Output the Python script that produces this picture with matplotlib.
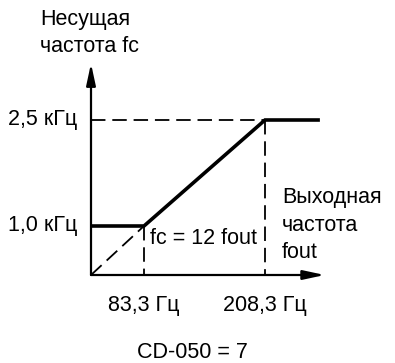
import matplotlib
matplotlib.use("Agg")
import matplotlib.pyplot as plt
import numpy as np

plt.rcParams['font.family'] = ['Liberation Sans', 'DejaVu Sans']

# data: output frequency (Hz) vs carrier frequency (kHz)
fout_hz = [0, 83.3, 208.3, 265]
fc_khz = [1.0, 1.0, 2.5, 2.5]
ref_fout = [0, 83.3]          # dashed line fc = 12 fout
ref_fc = [0, 1.0]
x_ticks = [83.3, 208.3]
x_tick_labels = ["83,3 Гц", "208,3 Гц"]
y_ticks = [1.0, 2.5]
y_tick_labels = ["1,0 кГц", "2,5 кГц"]
x_arrow_end = 270
y_arrow_end = 3.3

W, H = 395, 363


def piecewise(v, xp, fp):
    # linear interpolation with linear extrapolation at both ends
    v = np.asarray(v, dtype=float)
    out = np.interp(v, xp, fp)
    lo = v < xp[0]
    hi = v > xp[-1]
    s0 = (fp[1] - fp[0]) / (xp[1] - xp[0])
    s1 = (fp[-1] - fp[-2]) / (xp[-1] - xp[-2])
    out = np.where(lo, fp[0] + (v - xp[0]) * s0, out)
    out = np.where(hi, fp[-1] + (v - xp[-1]) * s1, out)
    return out


# schematic (not to scale) axis: value -> pixel
xv, xpx = [0, 83.3, 208.3], [91, 144, 265]
yv, ypx = [0, 1.0, 2.5], [H - 275, H - 226, H - 120]

fx = (lambda v: piecewise(v, xv, xpx), lambda p: piecewise(p, xpx, xv))
fy = (lambda v: piecewise(v, yv, ypx), lambda p: piecewise(p, ypx, yv))

fig = plt.figure(figsize=(W / 100, H / 100), dpi=100)
ax = fig.add_axes([0, 0, 1, 1])
ax.set_xscale('function', functions=fx)
ax.set_yscale('function', functions=fy)
ax.set_xlim(float(fx[1](0)), float(fx[1](W)))
ax.set_ylim(float(fy[1](0)), float(fy[1](H)))
ax.axis('off')

dash = (0, (8, 3.8))
dlw = 1.3

# axes with arrows
arr = dict(arrowstyle='-|>,head_length=1.3,head_width=0.28', lw=1.6, color='black',
           shrinkA=0, shrinkB=0)
ax.annotate('', xy=(x_arrow_end, 0), xytext=(0, 0), arrowprops=arr)
ax.annotate('', xy=(0, y_arrow_end), xytext=(0, 0), arrowprops=arr)

# guide lines
ax.plot([0, fout_hz[2]], [fc_khz[2], fc_khz[2]], color='black', lw=dlw, linestyle=dash)
ax.plot([fout_hz[2], fout_hz[2]], [fc_khz[2], 0], color='black', lw=dlw, linestyle=dash)
ax.plot([fout_hz[1], fout_hz[1]], [fc_khz[1], 0], color='black', lw=dlw, linestyle=dash)
ax.plot(ref_fout, ref_fc, color='black', lw=dlw, linestyle=dash)

# characteristic
ax.plot(fout_hz, fc_khz, color='black', lw=2.6, solid_capstyle='butt', solid_joinstyle='miter')

fs = 15.5
for x, lab in zip(x_ticks, x_tick_labels):
    ax.annotate(lab, xy=(x, 0), xytext=(0, -30), textcoords='offset pixels',
                ha='center', va='center', fontsize=fs)
for y, lab in zip(y_ticks, y_tick_labels):
    ax.annotate(lab, xy=(0, y), xytext=(-14, 0), textcoords='offset pixels',
                ha='right', va='center', fontsize=fs)

ax.annotate("fc = 12 fout", xy=(fout_hz[1], fc_khz[1]), xytext=(6, -12),
            textcoords='offset pixels', ha='left', va='center', fontsize=fs)

fig.text(40 / W, 1 - 20 / H, "Несущая", ha='left', va='center', fontsize=fs)
fig.text(40 / W, 1 - 47 / H, "частота fc", ha='left', va='center', fontsize=fs)
fig.text(282 / W, 1 - 198 / H, "Выходная", ha='left', va='center', fontsize=fs)
fig.text(282 / W, 1 - 225 / H, "частота", ha='left', va='center', fontsize=fs)
fig.text(282 / W, 1 - 252 / H, "fout", ha='left', va='center', fontsize=fs)
fig.text(192 / W, 1 - 352 / H, "CD-050 = 7", ha='center', va='center', fontsize=fs)

fig.savefig("out.png", dpi=100)
